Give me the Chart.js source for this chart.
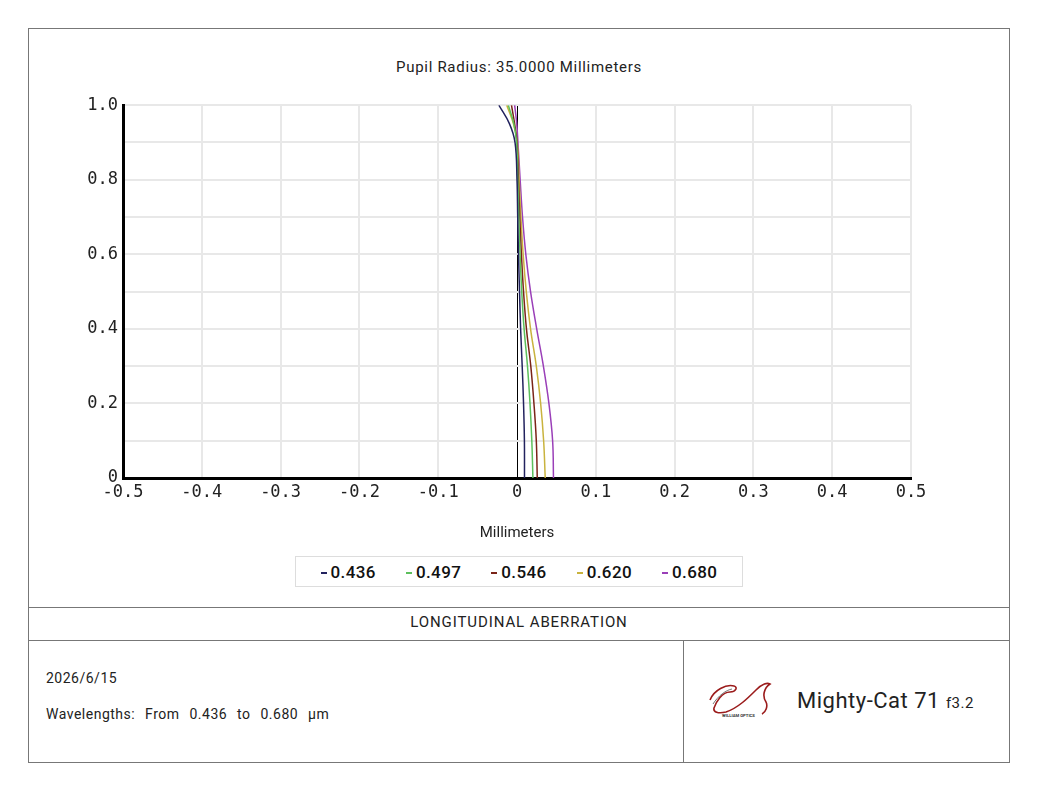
<!DOCTYPE html>
<html lang="en">
<head>
    <meta charset="UTF-8">
    <title>Longitudinal Aberration</title>
    <script src="https://cdn.jsdelivr.net/npm/chart.js"></script>
    <style>
        body {
            margin: 0;
            width: 1040px;
            height: 793px;
            background: #fff;
            font-family: Roboto, "Noto Sans", sans-serif;
            color: #222;
            position: relative;
            overflow: hidden;
        }
        #frame {
            position: absolute;
            left: 28px;
            top: 28px;
            width: 980px;
            height: 733px;
            border: 1px solid #777;
        }
        #title {
            position: absolute;
            left: 28px;
            width: 982px;
            top: 58px;
            text-align: center;
            font-size: 15px;
            letter-spacing: 0.7px;
        }
        #chart-box {
            position: absolute;
            left: 28px;
            top: 90px;
            width: 960px;
            height: 452px;
        }
        #legend {
            position: absolute;
            left: 295px;
            top: 556px;
            width: 446px;
            height: 29px;
            border: 1px solid #ddd;
            display: flex;
            justify-content: center;
            align-items: center;
            gap: 30px;
            font-size: 17px;
            font-weight: 500;
            letter-spacing: 0.4px;
            color: #111;
        }
        #legend .dash {
            display: inline-block;
            width: 6px;
            height: 2px;
            margin-right: 4px;
            vertical-align: middle;
        }
        .hline {
            position: absolute;
            left: 28px;
            width: 982px;
            height: 1px;
            background: #777;
        }
        #vline {
            position: absolute;
            left: 683px;
            top: 640px;
            width: 1px;
            height: 123px;
            background: #777;
        }
        #section {
            position: absolute;
            left: 28px;
            width: 982px;
            top: 613px;
            text-align: center;
            font-size: 15px;
            letter-spacing: 0.9px;
        }
        #date, #waves {
            position: absolute;
            left: 46px;
            font-size: 14px;
            letter-spacing: 0.5px;
        }
        #date { top: 670px; }
        #waves { top: 706px; word-spacing: 1px; }
        #logo {
            position: absolute;
            left: 704px;
            top: 678px;
        }
        #model {
            position: absolute;
            left: 797px;
            top: 688px;
            font-size: 22px;
            letter-spacing: 0.5px;
            color: #222;
        }
        #model small {
            font-size: 15px;
            margin-left: 6px;
        }
    </style>
</head>
<body>
    <div id="frame"></div>
    <div id="title">Pupil Radius: 35.0000 Millimeters</div>
    <div id="chart-box"><canvas id="aberrationChart"></canvas></div>
    <div id="legend"></div>

    <div class="hline" style="top:607px"></div>
    <div class="hline" style="top:640px"></div>
    <div id="vline"></div>
    <div id="section">LONGITUDINAL ABERRATION</div>
    <div id="date">2026/6/15</div>
    <div id="waves">Wavelengths:&nbsp; From&nbsp; 0.436&nbsp; to&nbsp; 0.680&nbsp; µm</div>

    <svg id="logo" width="72" height="44" viewBox="0 0 72 44">
        <path d="M6 22 C10 12 22 6 30 8 C34 9 32 14 26 14 C18 14 12 24 10 30 C9 34 14 36 22 34 C34 30 44 20 52 12 C56 8 62 4 66 6 C60 10 58 18 62 24 C64 28 62 34 58 36"
              fill="none" stroke="#9b1c1c" stroke-width="1.6"/>
        <path d="M9 26 C14 18 22 12 28 11" fill="none" stroke="#555" stroke-width="0.8"/>
        <text x="18" y="39" font-size="4.2" font-family="Roboto" font-weight="bold" fill="#333">WILLIAM OPTICS</text>
    </svg>
    <div id="model">Mighty-Cat 71<small>f3.2</small></div>

    <script>
        // relative pupil height (y) for every sample
        const pupilHeights = [0, 0.1, 0.2, 0.3, 0.4, 0.5, 0.6, 0.7, 0.8, 0.9, 0.95, 1.0];

        // focus shift in millimeters
        const shift436 = [0.0095, 0.0094, 0.0083, 0.0066, 0.0046, 0.0032, 0.0019, 0.0009, 0.0000, -0.0025, -0.0095, -0.0230];
        const shift497 = [0.0202, 0.0188, 0.0165, 0.0133, 0.0090, 0.0060, 0.0039, 0.0023, 0.0010, -0.0005, -0.0040, -0.0110];
        const shift546 = [0.0257, 0.0245, 0.0215, 0.0175, 0.0120, 0.0083, 0.0056, 0.0035, 0.0018, 0.0000, -0.0030, -0.0070];
        const shift620 = [0.0358, 0.0338, 0.0300, 0.0245, 0.0172, 0.0118, 0.0078, 0.0050, 0.0027, 0.0003, -0.0045, -0.0130];
        const shift680 = [0.0463, 0.0452, 0.0405, 0.0335, 0.0250, 0.0172, 0.0112, 0.0070, 0.0040, 0.0012, -0.0003, -0.0030];

        const wavelengths = ['0.436', '0.497', '0.546', '0.620', '0.680'];
        const seriesColors = ['#22225e', '#5cbf5c', '#7a2418', '#c9b33e', '#9a3fb8'];

        const xTickLabels = ['-0.5', '-0.4', '-0.3', '-0.2', '-0.1', '0', '0.1', '0.2', '0.3', '0.4', '0.5'];
        const yTickLabels = ['0', '', '0.2', '', '0.4', '', '0.6', '', '0.8', '', '1.0'];

        const allShifts = [shift436, shift497, shift546, shift620, shift680];

        const datasets = allShifts.map((shifts, i) => ({
            label: wavelengths[i],
            data: shifts.map((x, k) => ({ x: x, y: pupilHeights[k] })),
            borderColor: seriesColors[i],
            borderWidth: 1.5,
            pointRadius: 0,
            tension: 0.4,
            fill: false
        }));

        const monoFont = { family: '"DejaVu Sans Mono", monospace', size: 17 };

        const ctx = document.getElementById('aberrationChart').getContext('2d');
        new Chart(ctx, {
            type: 'line',
            data: { datasets: datasets },
            options: {
                responsive: true,
                maintainAspectRatio: false,
                animation: false,
                indexAxis: 'y',
                layout: { padding: { top: 13, right: 77, bottom: 0, left: 0 } },
                plugins: {
                    legend: { display: false },
                    tooltip: { enabled: false }
                },
                scales: {
                    x: {
                        type: 'linear',
                        min: -0.5,
                        max: 0.5,
                        ticks: {
                            stepSize: 0.1,
                            padding: 4,
                            color: '#222',
                            font: monoFont,
                            maxRotation: 0,
                            autoSkip: false,
                            callback: (v) => xTickLabels[Math.round(v * 10) + 5]
                        },
                        grid: {
                            drawTicks: false,
                            lineWidth: (c) => c.tick && Math.abs(c.tick.value) < 1e-9 ? 1 : 2,
                            color: (c) => c.tick && Math.abs(c.tick.value) < 1e-9 ? '#000' : '#e8e8e8'
                        },
                        border: { color: '#000', width: 3 },
                        title: {
                            display: true,
                            text: 'Millimeters',
                            color: '#222',
                            font: { family: 'Roboto, sans-serif', size: 15 },
                            padding: { top: 12, bottom: 0 }
                        },
                        afterFit: (scale) => { scale.height = 64; }
                    },
                    y: {
                        type: 'linear',
                        min: 0,
                        max: 1,
                        ticks: {
                            stepSize: 0.1,
                            padding: 5,
                            color: '#222',
                            font: monoFont,
                            autoSkip: false,
                            callback: (v) => yTickLabels[Math.round(v * 10)]
                        },
                        grid: {
                            drawTicks: false,
                            lineWidth: 2,
                            color: '#e8e8e8'
                        },
                        border: { color: '#000', width: 3 },
                        afterFit: (scale) => { scale.width = 95; }
                    }
                }
            }
        });

        // legend row built from the same series
        const legend = document.getElementById('legend');
        wavelengths.forEach((w, i) => {
            const item = document.createElement('span');
            item.innerHTML = `<span class="dash" style="background:${seriesColors[i]}"></span>${w}`;
            legend.appendChild(item);
        });
    </script>
</body>
</html>
